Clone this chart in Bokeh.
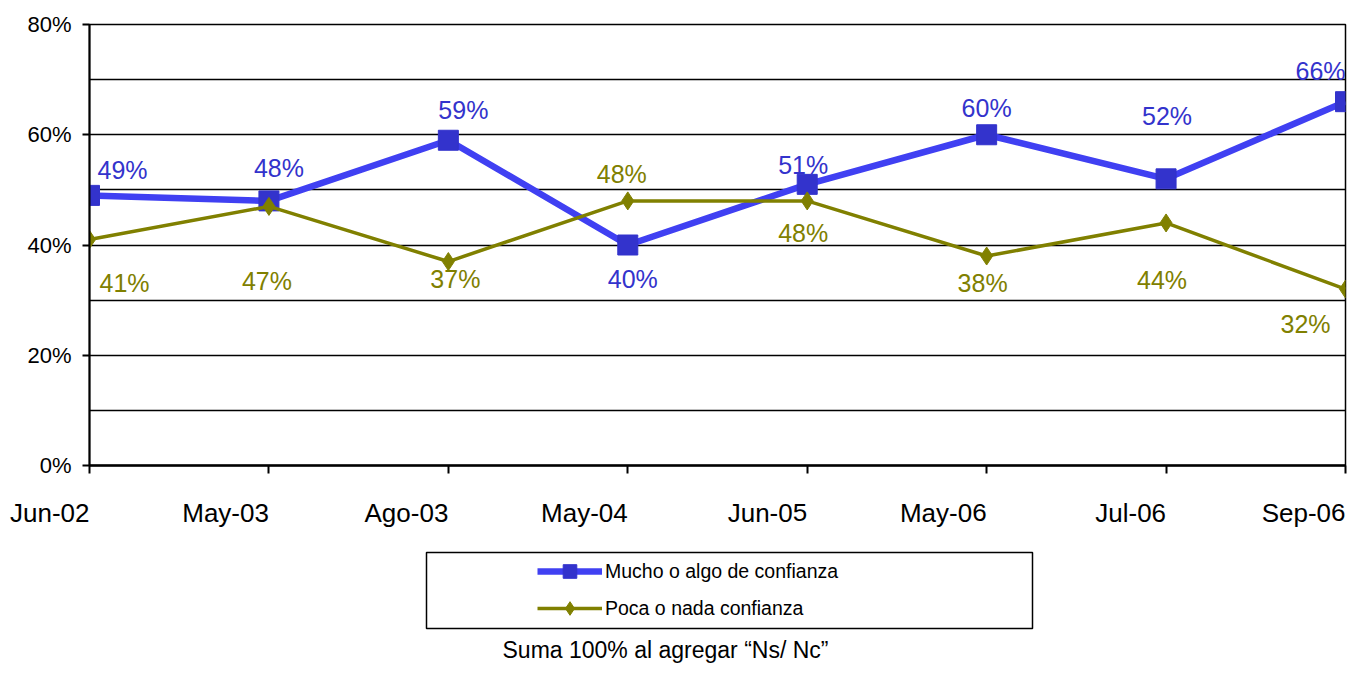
from bokeh.plotting import figure
from bokeh.layouts import column
from bokeh.models import (Range1d, FixedTicker, ColumnDataSource, Label, Legend,
                          LegendItem, BoxAnnotation)
from bokeh.core.properties import value
from bokeh.embed import file_html
from bokeh.resources import INLINE

# ---- data ----
fechas = ["Jun-02", "May-03", "Ago-03", "May-04", "Jun-05", "May-06", "Jul-06", "Sep-06"]
mucho = [49, 48, 59, 40, 51, 60, 52, 66]
poca = [41, 47, 37, 48, 48, 38, 44, 32]
y_ticks = [0, 20, 40, 60, 80]
grid_ticks = [0, 10, 20, 30, 40, 50, 60, 70, 80]
serie_mucho = "Mucho o algo de confianza"
serie_poca = "Poca o nada confianza"
nota = "Suma 100% al agregar \u201cNs/ Nc\u201d"

# ---- label placement (screen pixel offsets of the value labels) ----
mucho_dx = [33, 10, 15, 5, -4, 0, 1, -25]
mucho_dy = [-25, -33, -30, 34, -19, -27, -63, -31]
poca_dx = [35, -2, 7, -6, -4, -4, -4, -40]
poca_dy = [44, 75, 17, -27, 32, 27, 57, 35]

FONT = "Liberation Sans"
BLUE_LINE = "#4040F2"
BLUE_MARK = "#3333CC"
OLIVE = "#808000"

W = 1347
H_TOP, H_BOT = 545, 118
FL, FR, FT, FB = 89, 1345, 24, 465  # frame edges (pixels)
x_idx = list(range(len(fechas)))
xmax = len(fechas) - 1

p = figure(width=W, height=H_TOP, x_range=Range1d(0, xmax), y_range=Range1d(0, 80),
           output_backend="svg", toolbar_location=None,
           min_border_left=FL, min_border_right=W - FR,
           min_border_top=FT, min_border_bottom=H_TOP - FB)
p.background_fill_color = "white"
p.border_fill_color = "white"
p.outline_line_color = "black"
p.outline_line_width = 1.5

# axes
p.yaxis.ticker = FixedTicker(ticks=y_ticks)
p.yaxis.major_label_overrides = {t: f"{t}%" for t in y_ticks}
p.yaxis.major_label_text_font = FONT
p.yaxis.major_label_text_font_size = "22px"
p.yaxis.major_label_text_color = "black"
p.yaxis.major_label_standoff = 11
p.yaxis.major_tick_out = 7
p.yaxis.major_tick_in = 0
p.yaxis.minor_tick_line_color = None
p.yaxis.axis_line_width = 2
p.yaxis.major_tick_line_width = 2

p.xaxis.ticker = FixedTicker(ticks=x_idx)
p.xaxis.major_label_overrides = {i: f for i, f in zip(x_idx, fechas)}
p.xaxis.major_label_orientation = 1e-6   # numeric -> labels end at their tick
p.xaxis.major_label_text_font = FONT
p.xaxis.major_label_text_font_size = "26px"
p.xaxis.major_label_text_color = "black"
p.xaxis.major_label_standoff = 39
p.xaxis.major_tick_out = 8
p.xaxis.major_tick_in = 0
p.xaxis.minor_tick_line_color = None
p.xaxis.axis_line_width = 2.5
p.xaxis.major_tick_line_width = 2

p.xgrid.grid_line_color = None
p.ygrid.ticker = FixedTicker(ticks=grid_ticks)
p.ygrid.grid_line_color = "black"
p.ygrid.grid_line_width = 1.5

src = ColumnDataSource(dict(
    x=x_idx, mucho=mucho, poca=poca,
    mucho_txt=[f"{v}%" for v in mucho], poca_txt=[f"{v}%" for v in poca],
    mdx=mucho_dx, mdy=mucho_dy, pdx=poca_dx, pdy=poca_dy))

line_m = dict(line_color=BLUE_LINE, line_width=6.5)
mark_m = dict(marker="square", size=20, fill_color=BLUE_MARK, line_color=BLUE_MARK)
line_p = dict(line_color=OLIVE, line_width=3.5)
mark_p = dict(marker="diamond", size=18, fill_color=OLIVE, line_color=OLIVE)

p.line("x", "mucho", source=src, **line_m)
p.scatter("x", "mucho", source=src, **mark_m)
p.line("x", "poca", source=src, **line_p)
p.scatter("x", "poca", source=src, **mark_p)

p.text("x", "mucho", text="mucho_txt", source=src, x_offset="mdx", y_offset="mdy",
       text_align="center", text_baseline="middle", text_color=BLUE_MARK,
       text_font=value(FONT), text_font_size="25px")
p.text("x", "poca", text="poca_txt", source=src, x_offset="pdx", y_offset="pdy",
       text_align="center", text_baseline="middle", text_color=OLIVE,
       text_font=value(FONT), text_font_size="25px")

# ---- legend + note panel (its x range maps 1:1 onto page pixels) ----
q = figure(width=W, height=H_BOT, x_range=Range1d(FL, FR), y_range=Range1d(H_BOT, 0),
           x_axis_type=None, y_axis_type=None, output_backend="svg",
           toolbar_location=None, min_border_left=FL, min_border_right=W - FR,
           min_border_top=0, min_border_bottom=0)
q.outline_line_color = None
q.background_fill_color = "white"
q.border_fill_color = "white"
q.grid.visible = False

# legend proxies: same styles, no visible points
proxy = ColumnDataSource(dict(x=[float("nan")], y=[float("nan")]))
ql1 = q.line("x", "y", source=proxy, **line_m)
qs1 = q.scatter("x", "y", source=proxy, **mark_m)
ql2 = q.line("x", "y", source=proxy, **line_p)
qs2 = q.scatter("x", "y", source=proxy, **mark_p)

TOP0 = H_TOP  # y of this panel's top edge in the page
GLYPH_H, SPACING = 34, 3
leg_top = 554
leg_bottom = leg_top + 2 * GLYPH_H + SPACING
legend = Legend(items=[LegendItem(label=serie_mucho, renderers=[ql1, qs1]),
                       LegendItem(label=serie_poca, renderers=[ql2, qs2])],
                location=(537 - FL, H_BOT - (leg_bottom - TOP0)), padding=0, margin=0,
                spacing=SPACING, glyph_width=65, glyph_height=GLYPH_H, label_standoff=3,
                label_text_font=FONT, label_text_font_size="19.5px",
                label_text_color="black", label_text_baseline="middle",
                border_line_color=None, background_fill_alpha=0)
q.add_layout(legend)

q.add_layout(BoxAnnotation(left=426, right=1032, top=552 - TOP0, bottom=628 - TOP0,
                           fill_color=None, fill_alpha=0,
                           line_color="black", line_width=1.5, line_alpha=1))

q.add_layout(Label(x=665, y=649 - TOP0, text=nota, text_align="center",
                   text_baseline="middle", text_font=FONT, text_font_size="23px",
                   text_color="black"))

layout = column(p, q, spacing=0)
open("out.html", "w").write(file_html(layout, INLINE))
